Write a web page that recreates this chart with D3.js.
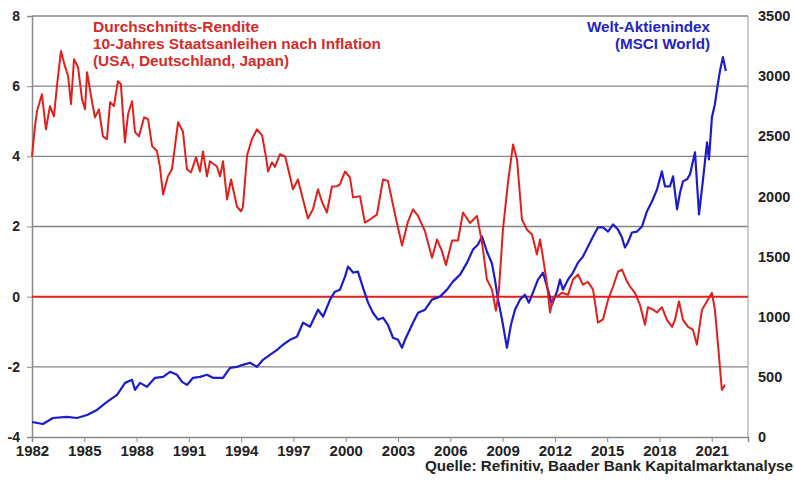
<!DOCTYPE html>
<html>
<head>
<meta charset="utf-8">
<script src="https://cdn.jsdelivr.net/npm/d3@7"></script>
<style>
  body { margin: 0; background: #fff; }
  svg text { font-family: "Liberation Sans", Arial, sans-serif; font-weight: bold; }
</style>
</head>
<body>
<div id="chart"></div>
<script>
// Durchschnitts-Rendite 10J Staatsanleihen nach Inflation, [jahr, prozent]
const renditeSeries = [
  [1982.00,4.0],[1982.17,4.86],[1982.29,5.29],[1982.57,5.77],[1982.80,4.77],[1983.03,5.43],[1983.26,5.14],
  [1983.43,6.0],[1983.66,7.0],[1983.89,6.57],[1984.07,6.29],[1984.24,5.49],[1984.41,6.77],[1984.64,6.54],
  [1984.87,5.63],[1985.04,5.34],[1985.16,6.4],[1985.39,5.71],[1985.61,5.11],[1985.84,5.34],[1986.07,4.57],
  [1986.30,4.49],[1986.48,5.54],[1986.70,5.43],[1986.93,6.14],[1987.10,6.06],[1987.33,4.4],[1987.51,5.2],
  [1987.74,5.57],[1987.91,4.69],[1988.14,4.57],[1988.43,5.11],[1988.66,5.06],[1988.89,4.29],[1989.17,4.15],
  [1989.34,3.7],[1989.52,2.91],[1989.80,3.43],[1990.03,3.63],[1990.38,4.97],[1990.66,4.71],[1990.89,3.63],
  [1991.12,3.54],[1991.41,3.97],[1991.64,3.57],[1991.81,4.14],[1992.04,3.43],[1992.21,3.86],[1992.61,3.71],
  [1992.79,3.43],[1992.96,3.86],[1993.19,2.77],[1993.42,3.34],[1993.76,2.57],[1993.99,2.43],[1994.10,2.55],
  [1994.34,4.03],[1994.62,4.49],[1994.91,4.77],[1995.20,4.6],[1995.43,3.97],[1995.54,3.57],[1995.77,3.83],
  [1995.94,3.7],[1996.23,4.06],[1996.52,4.0],[1996.80,3.43],[1996.97,3.06],[1997.26,3.34],[1997.55,2.77],
  [1997.83,2.23],[1998.12,2.49],[1998.41,3.06],[1998.64,2.7],[1998.92,2.4],[1999.21,3.14],[1999.50,3.15],
  [1999.67,3.2],[1999.96,3.57],[2000.24,3.4],[2000.42,2.83],[2000.82,2.86],[2001.10,2.11],[2001.39,2.2],
  [2001.79,2.34],[2002.14,3.34],[2002.42,3.3],[2002.83,2.34],[2003.23,1.46],[2003.57,2.14],[2003.86,2.49],
  [2004.15,2.3],[2004.55,1.86],[2004.95,1.11],[2005.24,1.63],[2005.52,1.3],[2005.75,0.9],[2006.10,1.6],
  [2006.44,1.6],[2006.73,2.4],[2007.13,2.1],[2007.53,2.3],[2007.82,1.54],[2008.10,0.49],[2008.39,0.2],
  [2008.62,-0.4],[2008.79,0.2],[2009.02,1.91],[2009.31,3.26],[2009.60,4.34],[2009.83,3.9],[2010.11,2.2],
  [2010.40,1.91],[2010.69,1.77],[2010.97,1.2],[2011.15,1.63],[2011.32,1.11],[2011.55,0.35],[2011.72,-0.45],
  [2011.89,-0.05],[2012.12,0.0],[2012.41,0.11],[2012.75,0.05],[2013.04,0.49],[2013.33,0.63],[2013.61,0.34],
  [2013.90,0.42],[2014.19,0.2],[2014.47,-0.74],[2014.76,-0.65],[2015.05,-0.09],[2015.34,0.29],[2015.62,0.71],
  [2015.85,0.77],[2016.14,0.43],[2016.31,0.29],[2016.60,0.1],[2016.88,-0.23],[2017.17,-0.8],[2017.34,-0.3],
  [2017.63,-0.37],[2017.86,-0.45],[2018.14,-0.3],[2018.43,-0.66],[2018.72,-0.86],[2018.89,-0.66],[2019.12,-0.14],
  [2019.35,-0.66],[2019.64,-0.86],[2019.92,-0.94],[2020.15,-1.37],[2020.44,-0.37],[2020.61,-0.23],[2020.78,-0.09],
  [2021.01,0.11],[2021.18,-0.37],[2021.35,-1.31],[2021.58,-2.66],[2021.76,-2.51]
]

// MSCI World, [jahr, indexpunkte]
const msciSeries = [
  [1982.00,125],[1982.63,108],[1983.20,158],[1984.00,167],[1984.58,158],[1985.16,183],[1985.73,225],
  [1986.30,292],[1986.88,350],[1987.34,450],[1987.74,475],[1987.91,392],[1988.20,450],[1988.60,417],
  [1989.06,492],[1989.52,500],[1989.92,542],[1990.32,517],[1990.61,458],[1990.89,433],[1991.24,492],
  [1991.64,500],[1992.04,517],[1992.38,492],[1992.96,492],[1993.36,575],[1993.76,583],[1994.10,600],
  [1994.51,617],[1994.91,583],[1995.25,642],[1995.65,683],[1996.06,725],[1996.40,767],[1996.80,808],
  [1997.20,833],[1997.55,950],[1997.95,917],[1998.41,1058],[1998.70,1000],[1999.10,1142],[1999.38,1208],
  [1999.67,1225],[1999.96,1333],[2000.13,1417],[2000.42,1367],[2000.70,1375],[2000.99,1242],[2001.28,1117],
  [2001.56,1033],[2001.85,975],[2002.14,992],[2002.42,933],[2002.71,825],[2003.00,808],[2003.23,742],
  [2003.40,808],[2003.86,950],[2004.15,1033],[2004.55,1058],[2004.95,1142],[2005.41,1167],[2005.81,1225],
  [2006.15,1292],[2006.56,1350],[2006.96,1450],[2007.30,1558],[2007.59,1600],[2007.82,1667],[2008.10,1542],
  [2008.39,1442],[2008.56,1308],[2008.74,1142],[2008.97,975],[2009.25,742],[2009.48,933],[2009.71,1058],
  [2010.00,1142],[2010.28,1183],[2010.51,1117],[2010.74,1200],[2011.03,1308],[2011.32,1367],[2011.60,1225],
  [2011.83,1100],[2012.12,1208],[2012.29,1308],[2012.46,1225],[2012.75,1308],[2013.04,1367],[2013.33,1450],
  [2013.61,1500],[2013.90,1583],[2014.19,1667],[2014.47,1742],[2014.76,1742],[2015.05,1708],[2015.34,1767],
  [2015.62,1725],[2015.85,1658],[2016.02,1575],[2016.19,1617],[2016.42,1700],[2016.71,1708],[2017.00,1750],
  [2017.28,1875],[2017.57,1958],[2017.86,2058],[2018.14,2208],[2018.32,2083],[2018.60,2083],[2018.78,2167],
  [2019.01,1892],[2019.18,2033],[2019.35,2125],[2019.58,2142],[2019.75,2183],[2020.04,2367],[2020.27,1850],
  [2020.50,2142],[2020.73,2450],[2020.84,2308],[2021.01,2658],[2021.18,2767],[2021.35,2933],[2021.47,3042],
  [2021.64,3158],[2021.81,3042]
]

const yearTicks = [1982, 1985, 1988, 1991, 1994, 1997, 2000, 2003, 2006, 2009, 2012, 2015, 2018, 2021]
const leftTicks = [-4, -2, 0, 2, 4, 6, 8]
const rightTicks = [0, 500, 1000, 1500, 2000, 2500, 3000, 3500]

const width = 795
const height = 481
const margin = {top: 16, right: 47, bottom: 44, left: 32}

const red = "#e0201c"
const blue = "#1c1ccc"

const svg = d3.select("#chart")
    .append("svg")
    .attr("width", width)
    .attr("height", height)

const x = d3.scaleLinear()
    .domain([1982, 2023.08])
    .range([margin.left, width - margin.right])

const yLeft = d3.scaleLinear()
    .domain([-4, 8])
    .range([height - margin.bottom, margin.top])

const yRight = d3.scaleLinear()
    .domain([0, 3500])
    .range([height - margin.bottom, margin.top])

// gridlines (0 is drawn red later)
svg.append("g")
    .selectAll("line")
    .data(leftTicks.filter(d => d !== 0 && d !== -4))
    .enter().append("line")
    .attr("x1", margin.left)
    .attr("x2", width - margin.right)
    .attr("y1", d => yLeft(d))
    .attr("y2", d => yLeft(d))
    .attr("stroke", "#858585")
    .attr("stroke-width", 1.3)

// right frame line
svg.append("line")
    .attr("x1", width - margin.right).attr("x2", width - margin.right)
    .attr("y1", margin.top).attr("y2", height - margin.bottom)
    .attr("stroke", "#a8a8a8")
    .attr("stroke-width", 1.2)

// left axis
const leftAxis = svg.append("g")
    .attr("transform", `translate(${margin.left},0)`)
    .call(d3.axisLeft(yLeft).tickValues(leftTicks).tickSize(5).tickPadding(7).tickFormat(d3.format("d")))
leftAxis.select(".domain").attr("stroke", "#8a8a8a").attr("stroke-width", 1.5)
leftAxis.selectAll(".tick line").attr("stroke", "#8a8a8a")
leftAxis.selectAll(".tick text")
    .attr("fill", "#222")
    .style("font-size", "14px")
    .text(d => d < 0 ? "-" + Math.abs(d) : d)

// bottom axis
const bottomAxis = svg.append("g")
    .attr("transform", `translate(0,${height - margin.bottom})`)
    .call(d3.axisBottom(x).tickValues(yearTicks).tickSize(5).tickPadding(3).tickFormat(d3.format("d")))
bottomAxis.select(".domain").attr("stroke", "#8a8a8a").attr("stroke-width", 1.5)
bottomAxis.selectAll(".tick line").attr("stroke", "#8a8a8a")
bottomAxis.selectAll(".tick text")
    .attr("fill", "#222")
    .style("font-size", "15px")

// right axis, labels only
const rightAxis = svg.append("g")
    .attr("transform", `translate(${width - margin.right},0)`)
    .call(d3.axisRight(yRight).tickValues(rightTicks).tickSize(0).tickPadding(10).tickFormat(d3.format("d")))
rightAxis.select(".domain").remove()
rightAxis.selectAll(".tick text")
    .attr("fill", "#222")
    .style("font-size", "14.5px")

// zero line
svg.append("line")
    .attr("x1", margin.left)
    .attr("x2", width - margin.right)
    .attr("y1", yLeft(0))
    .attr("y2", yLeft(0))
    .attr("stroke", red)
    .attr("stroke-width", 2)

const lineRendite = d3.line()
    .x(d => x(d[0]))
    .y(d => yLeft(d[1]))

const lineMsci = d3.line()
    .x(d => x(d[0]))
    .y(d => yRight(d[1]))

svg.append("path")
    .datum(msciSeries)
    .attr("d", lineMsci)
    .attr("fill", "none")
    .attr("stroke", blue)
    .attr("stroke-width", 2.2)
    .attr("stroke-linejoin", "round")

svg.append("path")
    .datum(renditeSeries)
    .attr("d", lineRendite)
    .attr("fill", "none")
    .attr("stroke", red)
    .attr("stroke-width", 2)
    .attr("stroke-linejoin", "round")

// legend texts
const redLabel = [
    {t: "Durchschnitts-Rendite", len: 166},
    {t: "10-Jahres Staatsanleihen nach Inflation", len: 288},
    {t: "(USA, Deutschland, Japan)", len: 196}
]
svg.append("g")
    .selectAll("text")
    .data(redLabel)
    .enter().append("text")
    .attr("x", 93)
    .attr("y", (d, i) => 32 + i * 17)
    .attr("textLength", d => d.len)
    .attr("lengthAdjust", "spacingAndGlyphs")
    .attr("fill", "#d52a2a")
    .style("font-size", "14px")
    .text(d => d.t)

const blueLabel = [
    {t: "Welt-Aktienindex", len: 123},
    {t: "(MSCI World)", len: 95}
]
svg.append("g")
    .selectAll("text")
    .data(blueLabel)
    .enter().append("text")
    .attr("x", 710)
    .attr("y", (d, i) => 32 + i * 17)
    .attr("text-anchor", "end")
    .attr("textLength", d => d.len)
    .attr("lengthAdjust", "spacingAndGlyphs")
    .attr("fill", "#2323c8")
    .style("font-size", "14px")
    .text(d => d.t)

svg.append("text")
    .attr("x", 793)
    .attr("y", 471)
    .attr("text-anchor", "end")
    .attr("textLength", 368)
    .attr("lengthAdjust", "spacingAndGlyphs")
    .attr("fill", "#222")
    .style("font-size", "14px")
    .text("Quelle: Refinitiv, Baader Bank Kapitalmarktanalyse")
</script>
</body>
</html>
